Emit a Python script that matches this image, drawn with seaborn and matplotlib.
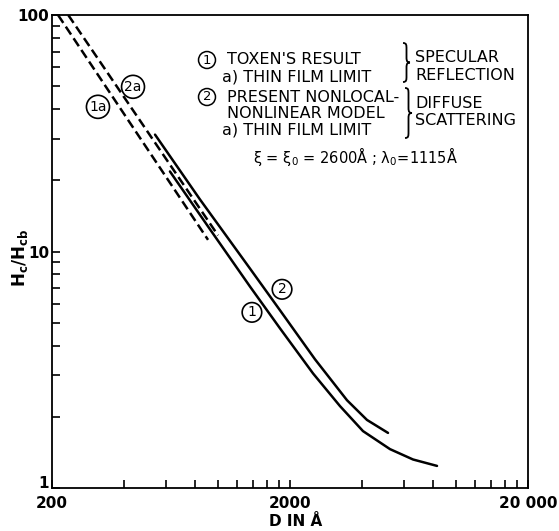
import matplotlib
matplotlib.use("Agg")
import matplotlib.pyplot as plt
import seaborn as sns
from matplotlib.path import Path
from matplotlib.patches import PathPatch
from matplotlib.ticker import FixedLocator, FixedFormatter, LogLocator, NullFormatter

# ---------------- data ----------------
d_1a = [212, 905]
h_1a = [100, 11.2]
d_2a = [234, 997]
h_2a = [100, 11.7]

d_1 = [626, 923, 1358, 1816, 2500, 3244, 4053, 5263, 6576, 8293]
h_1 = [21.8, 12.4, 7.11, 4.73, 3.05, 2.22, 1.74, 1.46, 1.32, 1.24]

d_2 = [542, 837, 1358, 1816, 2548, 3472, 4212, 5162]
h_2 = [31.2, 16.6, 8.47, 5.64, 3.50, 2.35, 1.94, 1.71]

x_ticks = [200, 2000, 20000]
x_tick_labels = ["200", "2000", "20 000"]
x_minor = [400, 600, 800, 1000, 1200, 1400, 1600, 1800,
           4000, 6000, 8000, 10000, 12000, 14000, 16000, 18000]
y_ticks = [1, 10, 100]
y_tick_labels = ["1", "10", "100"]

curve_tags = ["1a", "2a", "1", "2"]
tag_d = [312, 438, 1384, 1852]
tag_h = [40.9, 49.7, 5.53, 6.92]

# ---------------- style ----------------
sns.set_style("ticks")
plt.rcParams["font.family"] = ["DejaVu Sans"]
plt.rcParams["text.color"] = "black"
plt.rcParams["xtick.labelcolor"] = "black"
plt.rcParams["ytick.labelcolor"] = "black"
plt.rcParams["mathtext.fontset"] = "custom"
plt.rcParams["mathtext.rm"] = "DejaVu Sans"
plt.rcParams["mathtext.bf"] = "DejaVu Sans:bold"
plt.rcParams["mathtext.default"] = "rm"

W, H = 559, 531
fig = plt.figure(figsize=(W / 100, H / 100), dpi=100)
ax = fig.add_axes([52 / W, 1 - 488 / H, (528 - 52) / W, (488 - 15) / H])


def fp(x, y):
    # pixel position -> figure fraction
    return x / W, 1 - y / H


def brace(xl, yt, yb, w=7):
    # right curly brace drawn in pixel space
    xm = xl + w / 2
    ym = (yt + yb) / 2
    pts = [(xl, yt), (xm, yt), (xm, yt + 2), (xm, yt + 6),
           (xm, ym - 5),
           (xm, ym - 1), (xm + 1, ym), (xl + w, ym),
           (xm + 1, ym), (xm, ym + 1), (xm, ym + 5),
           (xm, yb - 6),
           (xm, yb - 2), (xm, yb), (xl, yb)]
    codes = [Path.MOVETO, Path.CURVE4, Path.CURVE4, Path.CURVE4,
             Path.LINETO,
             Path.CURVE4, Path.CURVE4, Path.CURVE4,
             Path.CURVE4, Path.CURVE4, Path.CURVE4,
             Path.LINETO,
             Path.CURVE4, Path.CURVE4, Path.CURVE4]
    verts = [fp(px, py) for px, py in pts]
    fig.patches.append(PathPatch(Path(verts, codes), fc="none", ec="black",
                                 lw=1.3, transform=fig.transFigure))


dash = (0, (3.8, 1.8))
sns.lineplot(x=d_1a, y=h_1a, ax=ax, color="black", lw=1.8, linestyle=dash)
sns.lineplot(x=d_2a, y=h_2a, ax=ax, color="black", lw=1.8, linestyle=dash)
sns.lineplot(x=d_1, y=h_1, ax=ax, color="black", lw=1.8)
sns.lineplot(x=d_2, y=h_2, ax=ax, color="black", lw=1.8)

ax.set_xscale("log")
ax.set_yscale("log")
ax.set_xlim(200, 20000)
ax.set_ylim(1, 100)

ax.xaxis.set_major_locator(FixedLocator(x_ticks))
ax.xaxis.set_major_formatter(FixedFormatter(x_tick_labels))
ax.xaxis.set_minor_locator(FixedLocator(x_minor))
ax.xaxis.set_minor_formatter(NullFormatter())
ax.yaxis.set_major_locator(FixedLocator(y_ticks))
ax.yaxis.set_major_formatter(FixedFormatter(y_tick_labels))
ax.yaxis.set_minor_locator(LogLocator(base=10, subs=range(2, 10)))
ax.yaxis.set_minor_formatter(NullFormatter())

ax.tick_params(which="both", direction="in", length=6, width=1.2,
               top=False, right=False, color="black")
ax.tick_params(axis="x", which="major", labelsize=11, pad=6)
ax.tick_params(axis="y", which="major", labelsize=11, pad=2)
for lab in ax.get_xticklabels() + ax.get_yticklabels():
    lab.set_fontweight("bold")
# the "1" sits just above the corner, as in the original
ax.yaxis.get_major_ticks()[0].label1.set_verticalalignment("baseline")
for sp in ax.spines.values():
    sp.set_linewidth(1.3)
    sp.set_color("black")
ax.set_xlabel("")
ax.set_ylabel("")

# curve tags (circled)
circ = dict(boxstyle="circle,pad=0.2", fc="white", ec="black", lw=1.2)
for t, dv, hv in zip(curve_tags, tag_d, tag_h):
    ax.text(dv, hv, t, ha="center", va="center", fontsize=10, bbox=circ)

# axis labels
fig.text(*fp(296, 522), "D IN Å", ha="center", va="center",
         fontsize=11, fontweight="bold")
fig.text(*fp(20, 258), r"$\mathbf{H_c/H_{cb}}$", ha="center", va="center",
         rotation=90, fontsize=12)

# key block
txt = dict(fontsize=11.5, va="center", ha="left")
small_circ = dict(boxstyle="circle,pad=0.15", fc="white", ec="black", lw=1.1)
fig.text(*fp(207, 60), "1", ha="center", va="center", fontsize=9.5,
         bbox=small_circ)
fig.text(*fp(227, 60), "TOXEN'S RESULT", **txt)
fig.text(*fp(222, 77), "a) THIN FILM LIMIT", **txt)
fig.text(*fp(207, 97), "2", ha="center", va="center", fontsize=9.5,
         bbox=small_circ)
fig.text(*fp(227, 97), "PRESENT NONLOCAL-", **txt)
fig.text(*fp(227, 113), "NONLINEAR MODEL", **txt)
fig.text(*fp(222, 130), "a) THIN FILM LIMIT", **txt)
fig.text(*fp(253, 157), r"ξ = ξ$_0$ = 2600Å ; λ$_0$=1115Å",
         fontsize=10.5, va="center", ha="left")

brace(403, 43, 82)
brace(405, 88, 138)
fig.text(*fp(415, 58), "SPECULAR", **txt)
fig.text(*fp(415, 75), "REFLECTION", **txt)
fig.text(*fp(415, 104), "DIFFUSE", **txt)
fig.text(*fp(415, 121), "SCATTERING", **txt)

fig.savefig("out.png", dpi=100)
